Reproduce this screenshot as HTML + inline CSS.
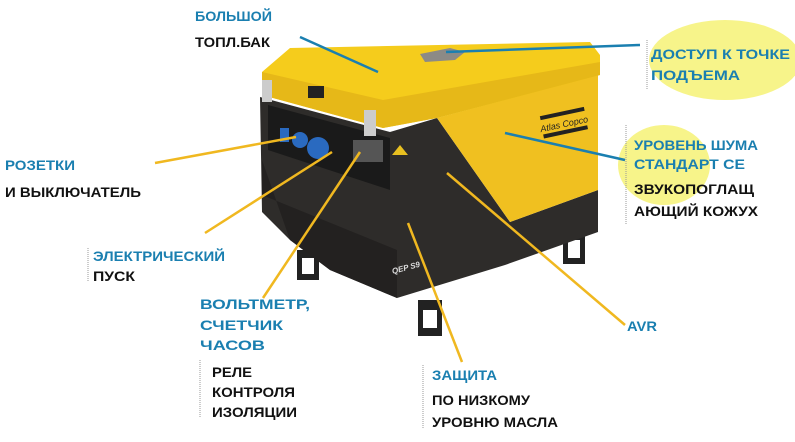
<!DOCTYPE html>
<html><head><meta charset="utf-8"><style>
html,body{margin:0;padding:0;background:#fff;}
svg{display:block;}
text{font-family:"Liberation Sans","DejaVu Sans",sans-serif;font-size:14px;font-weight:bold;}
.b{fill:#1a7fb0;}
.k{fill:#111;}
</style></head><body>
<svg width="795" height="442" viewBox="0 0 795 442" xmlns="http://www.w3.org/2000/svg">
<rect width="795" height="442" fill="#fff"/>
<ellipse cx="725" cy="60" rx="76" ry="40" fill="#f7f48a"/>
<ellipse cx="664" cy="165" rx="46" ry="40" fill="#f7f48a"/>
<line x1="647" y1="40" x2="647" y2="90" stroke="#999" stroke-dasharray="1,1"/>
<line x1="626" y1="125" x2="626" y2="225" stroke="#999" stroke-dasharray="1,1"/>
<line x1="88" y1="248" x2="88" y2="282" stroke="#999" stroke-dasharray="1,1"/>
<line x1="200" y1="360" x2="200" y2="418" stroke="#999" stroke-dasharray="1,1"/>
<line x1="423" y1="365" x2="423" y2="428" stroke="#999" stroke-dasharray="1,1"/>
<!-- feet -->
<rect x="297" y="250" width="22" height="30" fill="#222"/>
<rect x="302" y="258" width="12" height="16" fill="#fff"/>
<rect x="418" y="300" width="24" height="36" fill="#222"/>
<rect x="423" y="310" width="14" height="18" fill="#fff"/>
<rect x="563" y="232" width="22" height="32" fill="#222"/>
<rect x="568" y="240" width="12" height="18" fill="#fff"/>
<!-- dark body -->
<polygon points="260,97 390,132 437,118 510,222 598,190 598,232 505,265 397,298 330,270 290,240 262,212" fill="#2e2c2a"/>
<polygon points="262,160 290,240 330,270 397,298 397,250 262,195" fill="#232120"/>
<polygon points="268,105 390,138 390,190 268,150" fill="#1a1a1a"/>
<rect x="280" y="128" width="9" height="14" fill="#2a6ac0"/>
<circle cx="300" cy="140" r="8" fill="#2a6ac0"/>
<circle cx="318" cy="148" r="11" fill="#2a6ac0"/>
<rect x="353" y="140" width="30" height="22" fill="#555"/>
<polygon points="392,155 400,145 408,155" fill="#e8c020"/>
<!-- yellow side panel -->
<polygon points="437,118 598,75 598,190 510,222" fill="#f0c020"/>
<!-- yellow lid -->
<polygon points="262,72 290,48 590,42 600,55 600,75 437,118 383,128 262,95" fill="#f5cc1c"/>
<polygon points="262,72 383,100 600,62 600,75 437,118 383,128 262,95" fill="#e6b818"/>
<polygon points="420,54 450,48 465,52 455,60 425,62" fill="#8c8a86"/>
<rect x="308" y="86" width="16" height="12" fill="#222"/>
<rect x="262" y="80" width="10" height="22" fill="#ccc"/>
<rect x="364" y="110" width="12" height="26" fill="#ccc"/>
<rect x="540" y="112" width="45" height="4" fill="#222" transform="rotate(-12 560 115)"/>
<text x="540" y="128" style="font-size:9px;font-style:italic;font-weight:normal" fill="#222" transform="rotate(-12 560 125)">Atlas Copco</text>
<rect x="543" y="131" width="45" height="4" fill="#222" transform="rotate(-12 560 132)"/>
<text x="392" y="272" style="font-size:8px;font-style:italic" fill="#ddd" transform="rotate(-15 400 270)">QEP S9</text>
<g stroke="#1a7fb0" stroke-width="2.5" fill="none">
<line x1="300" y1="37" x2="378" y2="72"/>
<line x1="446" y1="52" x2="640" y2="45"/>
<line x1="505" y1="133" x2="625" y2="160"/>
</g>
<g stroke="#f0b820" stroke-width="2.5" fill="none">
<line x1="155" y1="163" x2="296" y2="137"/>
<line x1="205" y1="233" x2="332" y2="152"/>
<line x1="263" y1="298" x2="360" y2="152"/>
<line x1="408" y1="223" x2="462" y2="362"/>
<line x1="447" y1="173" x2="625" y2="325"/>
</g>
<g lengthAdjust="spacingAndGlyphs">
<text x="195" y="21" class="b" textLength="77" lengthAdjust="spacingAndGlyphs">БОЛЬШОЙ</text>
<text x="195" y="47" class="k" textLength="75" lengthAdjust="spacingAndGlyphs">ТОПЛ.БАК</text>
<text x="651" y="59" class="b" textLength="139" lengthAdjust="spacingAndGlyphs">ДОСТУП К ТОЧКЕ</text>
<text x="651" y="80" class="b" textLength="89" lengthAdjust="spacingAndGlyphs">ПОДЪЕМА</text>
<text x="634" y="150" class="b" textLength="124" lengthAdjust="spacingAndGlyphs">УРОВЕНЬ ШУМА</text>
<text x="634" y="169" class="b" textLength="111" lengthAdjust="spacingAndGlyphs">СТАНДАРТ СЕ</text>
<text x="634" y="194" class="k" textLength="120" lengthAdjust="spacingAndGlyphs">ЗВУКОПОГЛАЩ</text>
<text x="634" y="216" class="k" textLength="124" lengthAdjust="spacingAndGlyphs">АЮЩИЙ КОЖУХ</text>
<text x="5" y="170" class="b" textLength="70" lengthAdjust="spacingAndGlyphs">РОЗЕТКИ</text>
<text x="5" y="197" class="k" textLength="136" lengthAdjust="spacingAndGlyphs">И ВЫКЛЮЧАТЕЛЬ</text>
<text x="93" y="261" class="b" textLength="132" lengthAdjust="spacingAndGlyphs">ЭЛЕКТРИЧЕСКИЙ</text>
<text x="93" y="281" class="k" textLength="42" lengthAdjust="spacingAndGlyphs">ПУСК</text>
<text x="200" y="309" class="b" textLength="110" lengthAdjust="spacingAndGlyphs">ВОЛЬТМЕТР,</text>
<text x="200" y="330" class="b" textLength="83" lengthAdjust="spacingAndGlyphs">СЧЕТЧИК</text>
<text x="200" y="350" class="b" textLength="65" lengthAdjust="spacingAndGlyphs">ЧАСОВ</text>
<text x="212" y="377" class="k" textLength="40" lengthAdjust="spacingAndGlyphs">РЕЛЕ</text>
<text x="212" y="397" class="k" textLength="83" lengthAdjust="spacingAndGlyphs">КОНТРОЛЯ</text>
<text x="212" y="417" class="k" textLength="85" lengthAdjust="spacingAndGlyphs">ИЗОЛЯЦИИ</text>
<text x="432" y="380" class="b" textLength="65" lengthAdjust="spacingAndGlyphs">ЗАЩИТА</text>
<text x="432" y="405" class="k" textLength="98" lengthAdjust="spacingAndGlyphs">ПО НИЗКОМУ</text>
<text x="432" y="427" class="k" textLength="126" lengthAdjust="spacingAndGlyphs">УРОВНЮ МАСЛА</text>
<text x="627" y="331" class="b" textLength="30" lengthAdjust="spacingAndGlyphs">AVR</text>
</g>
</svg>
</body></html>
